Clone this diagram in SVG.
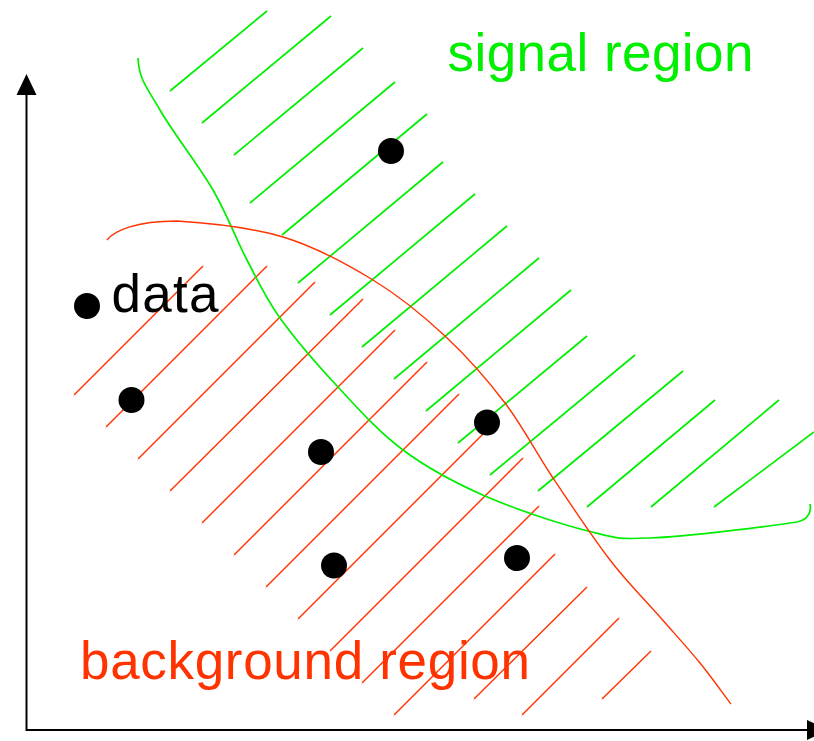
<svg xmlns="http://www.w3.org/2000/svg" width="814" height="741" viewBox="0 0 814 741">
<style>
.g{stroke:#00ee00;stroke-width:1.7;fill:none}
.r{stroke:#ff3300;stroke-width:1.4;fill:none}
.ax{stroke:#000;stroke-width:2;fill:none}
.dot{fill:#000}
.lbl{font-family:"Liberation Sans",Arial,sans-serif;font-size:53px}
</style>
<rect width="814" height="741" fill="#fff"/>
<g id="axes">
<path class="ax" d="M26.5,92 V730 H810"/>
<polygon points="26.5,74 16.5,95 36.5,95" fill="#000"/>
<polygon points="828,730 807,720 807,740" fill="#000"/>
</g>
<g id="signal-hatching" class="g">
<line x1="170" y1="91" x2="267" y2="11"/>
<line x1="202" y1="123" x2="331" y2="16"/>
<line x1="234" y1="155" x2="363" y2="48"/>
<line x1="250" y1="203" x2="395" y2="82"/>
<line x1="282" y1="235" x2="427" y2="114"/>
<line x1="298" y1="283" x2="443" y2="162"/>
<line x1="330" y1="315" x2="475" y2="194"/>
<line x1="362" y1="347" x2="507" y2="226"/>
<line x1="394" y1="379" x2="539" y2="258"/>
<line x1="426" y1="411" x2="571" y2="290"/>
<line x1="458" y1="443" x2="587" y2="336"/>
<line x1="490" y1="475" x2="635" y2="355"/>
<line x1="538" y1="491" x2="683" y2="371"/>
<line x1="587" y1="507" x2="715" y2="400"/>
<line x1="651" y1="507" x2="779" y2="400"/>
<line x1="714" y1="507" x2="814" y2="432"/>
</g>
<g id="background-hatching" class="r">
<line x1="74" y1="395" x2="203" y2="266"/>
<line x1="106" y1="427" x2="267" y2="266"/>
<line x1="138" y1="459" x2="315" y2="282"/>
<line x1="170" y1="491" x2="363" y2="299"/>
<line x1="202" y1="523" x2="395" y2="330"/>
<line x1="234" y1="555" x2="427" y2="362"/>
<line x1="266" y1="587" x2="459" y2="394"/>
<line x1="298" y1="619" x2="491" y2="426"/>
<line x1="330" y1="651" x2="523" y2="458"/>
<line x1="362" y1="683" x2="539" y2="506"/>
<line x1="394" y1="715" x2="555" y2="554"/>
<line x1="474" y1="699" x2="587" y2="587"/>
<line x1="522" y1="715" x2="619" y2="618"/>
<line x1="602" y1="699" x2="651" y2="651"/>
</g>
<g id="signal-boundary">
<path class="g" d="M138,58 C139,80 147.5,88 160,110 C172.5,132 198.5,165 213,190 C227.5,215 235.8,238.7 247,260 C258.2,281.3 264.8,296.8 280,318 C295.2,339.2 317.5,365 338,387 C358.5,409 378.5,431.8 403,450 C427.5,468.2 454.2,482.5 485,496 C515.8,509.5 560.5,524 588,531 C615.5,538 615.2,539.5 650,538 C684.8,536.5 770.5,526.3 797,522 C806,520 812,514 810,504"/>
</g>
<g id="background-boundary">
<path class="r" d="M107,240 C114,231 135,221 177,221 C203.7,222.7 250.3,227.2 283,237 C315.7,246.8 346,263.5 373,280 C400,296.5 423,315.5 445,336 C467,356.5 487,379.3 505,403 C523,426.7 535.5,451.8 553,478 C570.5,504.2 592.2,536.8 610,560 C627.8,583.2 645,599.8 660,617 C675,634.2 688.2,648.5 700,663 C711.8,677.5 725.8,697.2 731,704"/>
</g>
<g id="data-points">
<circle class="dot" cx="391" cy="151" r="13"/>
<circle class="dot" cx="87" cy="306" r="13"/>
<circle class="dot" cx="131.5" cy="400" r="13"/>
<circle class="dot" cx="321" cy="452" r="13"/>
<circle class="dot" cx="334" cy="565.5" r="13"/>
<circle class="dot" cx="487" cy="422.5" r="13"/>
<circle class="dot" cx="517" cy="558" r="13"/>
</g>
<g id="labels">
<text class="lbl" x="111.5" y="311.5" fill="#000" textLength="107" lengthAdjust="spacing">data</text>
<text class="lbl" x="447.5" y="71" fill="#00ee00" textLength="306" lengthAdjust="spacing">signal region</text>
<text class="lbl" x="80" y="679" fill="#ff3300" textLength="450" lengthAdjust="spacing">background region</text>
</g>
</svg>
